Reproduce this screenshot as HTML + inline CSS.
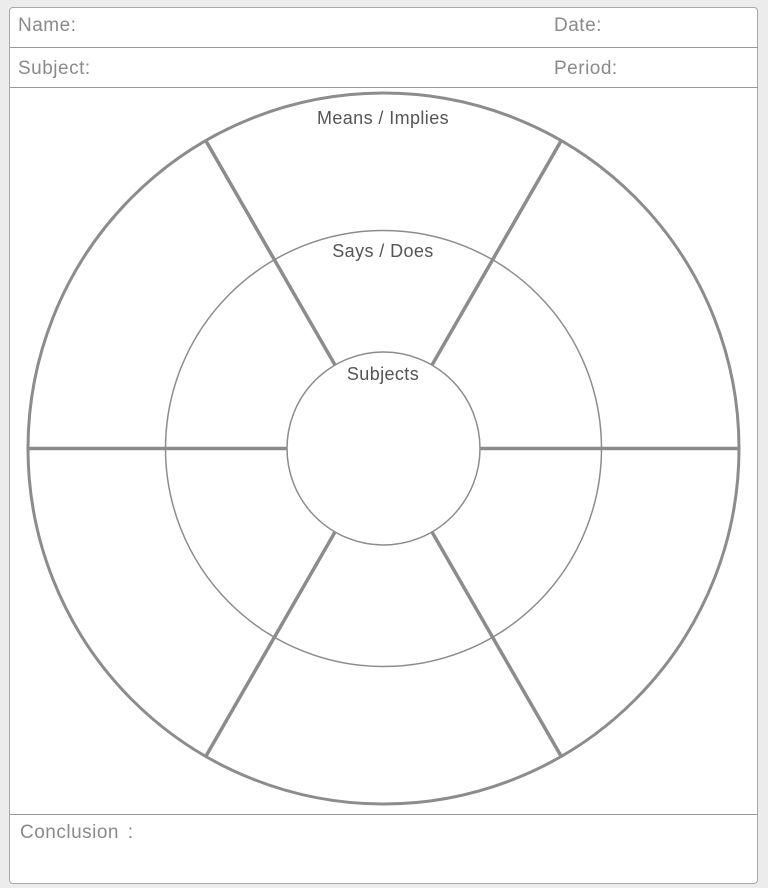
<!DOCTYPE html>
<html><head><style>
body{margin:0;width:768px;height:888px;background:#ececec;font-family:"Liberation Sans",sans-serif;position:relative;overflow:hidden}
.box{position:absolute;left:9px;top:7px;width:749px;height:877px;background:#fff;border:1px solid #a8a8a8;border-radius:4px;box-sizing:border-box}
.t{position:absolute;color:#8a8a8a;font-size:19px;letter-spacing:0.5px}
.l{position:absolute;left:10px;width:748px;height:1px;background:#999}
</style></head><body>
<div class="box"></div>
<div class="l" style="top:47px"></div>
<div class="l" style="top:87px"></div>
<div class="l" style="top:814px"></div>
<div class="t" style="left:18px;top:15px">Name:</div>
<div class="t" style="left:554px;top:15px">Date:</div>
<div class="t" style="left:18px;top:58px">Subject:</div>
<div class="t" style="left:554px;top:58px">Period:</div>
<div class="t" style="left:20px;top:822px;word-spacing:3px">Conclusion :</div>
<svg width="768" height="888" style="position:absolute;left:0;top:0">
<g fill="none" stroke="#8c8c8c">
<circle cx="383.5" cy="448.5" r="355.5" stroke-width="3"/>
<circle cx="383.5" cy="448.5" r="218" stroke-width="1.5"/>
<circle cx="383.5" cy="448.5" r="96.5" stroke-width="1.5"/>
<g stroke-width="3.5">
<line x1="28" y1="448.5" x2="287" y2="448.5"/>
<line x1="480" y1="448.5" x2="739" y2="448.5"/>
<line x1="206" y1="141" x2="335" y2="365"/>
<line x1="561" y1="141" x2="432" y2="365"/>
<line x1="206" y1="756" x2="335" y2="532"/>
<line x1="561" y1="756" x2="432" y2="532"/>
</g></g>
<g fill="#555" font-size="18" letter-spacing="0.4" text-anchor="middle" font-family="Liberation Sans, sans-serif">
<text x="383" y="124">Means / Implies</text>
<text x="383" y="257">Says / Does</text>
<text x="383" y="380">Subjects</text>
</g>
</svg>
</body></html>
